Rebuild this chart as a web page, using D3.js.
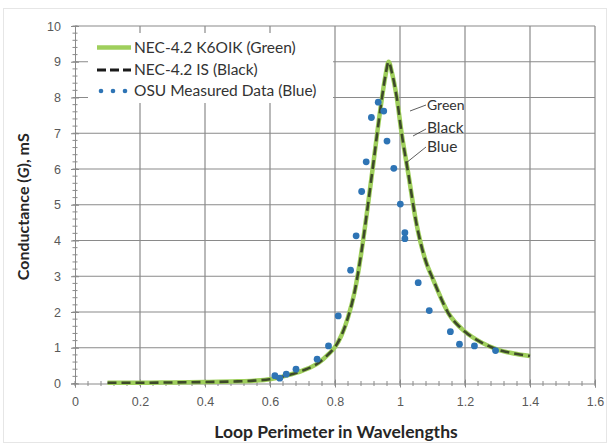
<!DOCTYPE html>
<html>
<head>
<meta charset="utf-8">
<script src="https://cdn.jsdelivr.net/npm/d3@7"></script>
<style>
  body { margin: 0; background: #fff; }
  svg { font-family: Lato, "Open Sans", sans-serif; }
</style>
</head>
<body>
<div id="chart"></div>
<script>
// NEC-4.2 model curves (green + black are almost the same)
const necX = [0.10, 0.20, 0.30, 0.40, 0.50, 0.55, 0.60, 0.65, 0.70, 0.75, 0.78, 0.80, 0.82, 0.84, 0.86, 0.88, 0.90, 0.92, 0.94, 0.955, 0.965, 0.975, 0.99, 1.005, 1.025, 1.05, 1.08, 1.10, 1.15, 1.20, 1.25, 1.30, 1.35, 1.40]
const greenG = [0.02, 0.02, 0.03, 0.04, 0.06, 0.08, 0.12, 0.22, 0.36, 0.58, 0.82, 1.02, 1.35, 1.85, 2.55, 3.6, 4.9, 6.3, 7.7, 8.6, 9.0, 8.7, 8.0, 7.0, 5.9, 4.5, 3.4, 2.95, 1.95, 1.45, 1.15, 0.95, 0.84, 0.77]
const blackG = [0.02, 0.02, 0.03, 0.04, 0.06, 0.08, 0.12, 0.22, 0.36, 0.58, 0.82, 1.02, 1.35, 1.85, 2.55, 3.6, 4.9, 6.3, 7.7, 8.6, 9.0, 8.7, 8.0, 7.0, 5.9, 4.5, 3.4, 2.95, 1.95, 1.45, 1.15, 0.95, 0.84, 0.77]

// OSU measured points
const osuX = [0.615, 0.63, 0.65, 0.68, 0.745, 0.78, 0.81, 0.848, 0.865, 0.882, 0.896, 0.912, 0.933, 0.95, 0.96, 0.981, 1.001, 1.015, 1.015, 1.056, 1.09, 1.155, 1.183, 1.229, 1.294]
const osuG = [0.22, 0.15, 0.26, 0.40, 0.68, 1.05, 1.89, 3.17, 4.13, 5.37, 6.20, 7.44, 7.87, 7.62, 6.78, 6.02, 5.02, 4.22, 4.05, 2.82, 2.04, 1.45, 1.10, 1.05, 0.92]

const xTicks = [0, 0.2, 0.4, 0.6, 0.8, 1, 1.2, 1.4, 1.6]
const yTicks = [0, 1, 2, 3, 4, 5, 6, 7, 8, 9, 10]
const legendNames = ['NEC-4.2 K6OIK (Green)', 'NEC-4.2 IS (Black)', 'OSU Measured Data (Blue)']
const calloutNames = ['Green', 'Black', 'Blue']

const width = 610, height = 446
const margin = { top: 26, right: 15, bottom: 62.5, left: 75 }

const svg = d3.select('#chart').append('svg')
  .attr('width', width)
  .attr('height', height)

svg.append('rect')
  .attr('x', 3.5).attr('y', 8.5)
  .attr('width', width - 7).attr('height', height - 12)
  .attr('fill', '#fff').attr('stroke', '#e6e6e6')

const x = d3.scaleLinear().domain([0, 1.6]).range([margin.left, width - margin.right])
const y = d3.scaleLinear().domain([0, 10]).range([height - margin.bottom, margin.top])

// grid
svg.append('g')
  .selectAll('line')
  .data(xTicks.slice(1))
  .join('line')
  .attr('x1', d => x(d)).attr('x2', d => x(d))
  .attr('y1', y(0)).attr('y2', y(10))
  .attr('stroke', '#8a8a8a').attr('stroke-width', 1.2)

svg.append('g')
  .selectAll('line')
  .data(yTicks.slice(1))
  .join('line')
  .attr('x1', x(0)).attr('x2', x(1.6))
  .attr('y1', d => y(d)).attr('y2', d => y(d))
  .attr('stroke', '#8a8a8a').attr('stroke-width', 1.2)

// axes
const xAxis = svg.append('g')
  .attr('transform', `translate(0,${y(0)})`)
  .call(d3.axisBottom(x).tickValues(xTicks).tickFormat(d3.format('~g')).tickSize(4).tickPadding(10))
xAxis.select('.domain').attr('stroke', '#8a8a8a')
xAxis.selectAll('.tick line').attr('stroke', '#8a8a8a').attr('y1', -4)
xAxis.selectAll('text').attr('fill', '#595959').attr('font-size', 12.5)

const xMinor = d3.range(0, 1.6001, 0.04)
svg.append('g').selectAll('line')
  .data(xMinor)
  .join('line')
  .attr('x1', d => x(d)).attr('x2', d => x(d))
  .attr('y1', y(0) - 2.5).attr('y2', y(0) + 2.5)
  .attr('stroke', '#8a8a8a')

const yAxis = svg.append('g')
  .attr('transform', `translate(${x(0)},0)`)
  .call(d3.axisLeft(y).tickValues(yTicks).tickSize(4).tickPadding(10))
yAxis.select('.domain').attr('stroke', '#8a8a8a')
yAxis.selectAll('.tick line').attr('stroke', '#8a8a8a').attr('x1', 4)
yAxis.selectAll('text').attr('fill', '#595959').attr('font-size', 12.5)

const yMinor = d3.range(0, 10.001, 0.2)
svg.append('g').selectAll('line')
  .data(yMinor)
  .join('line')
  .attr('x1', x(0) - 2.5).attr('x2', x(0) + 2.5)
  .attr('y1', d => y(d)).attr('y2', d => y(d))
  .attr('stroke', '#8a8a8a')

// legend box (covers the grid)
svg.append('rect')
  .attr('x', 88).attr('y', 33)
  .attr('width', 245).attr('height', 70)
  .attr('fill', '#fff')

// curves
const line = d3.line().curve(d3.curveMonotoneX)

svg.append('path')
  .attr('d', line(necX.map((d, i) => [x(d), y(greenG[i])])))
  .attr('fill', 'none')
  .attr('stroke', '#9fcf5c')
  .attr('stroke-width', 4.5)

svg.append('path')
  .attr('d', line(necX.map((d, i) => [x(d), y(blackG[i])])))
  .attr('fill', 'none')
  .attr('stroke', '#2b3320')
  .attr('stroke-width', 2.6)
  .attr('stroke-dasharray', '9,5')
  .attr('opacity', 0.85)

svg.append('g')
  .selectAll('circle')
  .data(osuX)
  .join('circle')
  .attr('cx', d => x(d))
  .attr('cy', (d, i) => y(osuG[i]))
  .attr('r', 3.4)
  .attr('fill', '#2e74b5')

// legend
const leg = svg.append('g')
const legY = [47.5, 70, 91]
leg.append('line')
  .attr('x1', 97).attr('x2', 131).attr('y1', legY[0]).attr('y2', legY[0])
  .attr('stroke', '#9fcf5c').attr('stroke-width', 4.5)
leg.append('line')
  .attr('x1', 97).attr('x2', 131).attr('y1', legY[1]).attr('y2', legY[1])
  .attr('stroke', '#1a1a1a').attr('stroke-width', 3).attr('stroke-dasharray', '9,4')
leg.selectAll('circle')
  .data([101, 113, 125])
  .join('circle')
  .attr('cx', d => d).attr('cy', legY[2]).attr('r', 2.3)
  .attr('fill', '#2e74b5')
leg.selectAll('text')
  .data(legendNames)
  .join('text')
  .attr('x', 134)
  .attr('y', (d, i) => legY[i] + 5)
  .attr('font-size', 15.5)
  .attr('fill', '#333')
  .text(d => d)

// curve call-outs
const callouts = [
  { from: [410, 111], to: [426, 105], ty: 110, fs: 14 },
  { from: [413, 136], to: [426, 129], ty: 133, fs: 15.5 },
  { from: [406, 163], to: [426, 147], ty: 152, fs: 15.5 }
]
callouts.forEach((c, i) => {
  svg.append('line')
    .attr('x1', c.from[0]).attr('y1', c.from[1])
    .attr('x2', c.to[0]).attr('y2', c.to[1])
    .attr('stroke', '#333').attr('stroke-width', 0.8)
  svg.append('text')
    .attr('x', c.to[0] + 1).attr('y', c.ty)
    .attr('font-size', c.fs)
    .attr('fill', '#333')
    .text(calloutNames[i])
})

// axis titles
svg.append('text')
  .attr('x', 336)
  .attr('y', 438)
  .attr('text-anchor', 'middle')
  .attr('font-size', 17.5)
  .attr('font-weight', 'bold')
  .attr('fill', '#262626')
  .text('Loop Perimeter in Wavelengths')

const yt = svg.append('text')
  .attr('transform', `translate(29,${(y(0) + y(10)) / 2 + 2}) rotate(-90)`)
  .attr('text-anchor', 'middle')
  .attr('font-size', 16)
  .attr('font-weight', 'bold')
  .attr('fill', '#262626')
yt.append('tspan').text('Conductance (')
yt.append('tspan').attr('font-style', 'italic').text('G')
yt.append('tspan').text('), mS')
</script>
</body>
</html>
